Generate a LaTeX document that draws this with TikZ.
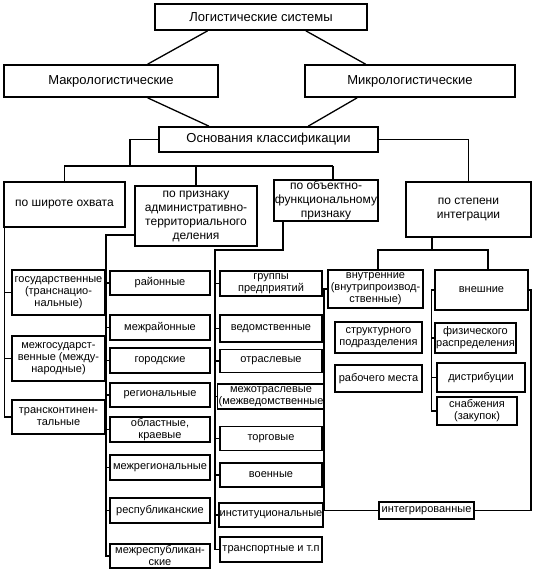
\documentclass[tikz,border=0pt]{standalone}
\usepackage{fontspec}
\setmainfont{Liberation Sans}
\usetikzlibrary{calc}
\tikzset{
  box/.style={draw=black, line width=1.7pt, fill=white, align=center, inner sep=1pt, font=\fontsize{11}{12}\selectfont},
  midbox/.style={box, font=\fontsize{12}{14}\selectfont},
  bigbox/.style={box, font=\fontsize{13}{15}\selectfont},
  conn/.style={draw=black, line width=1.3pt},
}
\newcommand{\bx}[7][box]{\node[#1, minimum width=#5pt, minimum height=#6pt] (#2) at (#3,#4) {#7};}
\begin{document}
\begin{tikzpicture}[x=1pt,y=-1pt]
\useasboundingbox (0,0) rectangle (538,570);
% top levels
\bx[bigbox]{log}{261}{17}{212}{26}{Логистические системы}
\bx[bigbox]{macro}{111}{81}{214}{32}{Макрологистические}
\bx[bigbox]{micro}{410}{81}{210}{32}{Микрологистические}
\bx[bigbox]{osn}{268.5}{139.5}{219}{25}{Основания классификации}
\bx[midbox]{shir}{64.5}{204.5}{121}{45}{по широте охвата}
\bx[midbox]{adm}{196}{216}{122}{60}{по признаку\\административно-\\территориального\\деления}
\bx[midbox]{obj}{326}{200.5}{102}{39}{по объектно-\\функциональному\\признаку}
\bx[midbox]{integ}{468.5}{209.5}{125}{55}{по степени\\интеграции}
% column 1
\bx{gos}{58.5}{292.5}{93}{45}{государственные\\(транснацио-\\нальные)}
\bx{mgos}{58.5}{358.5}{93}{45}{межгосударст-\\венные (между-\\народные)}
\bx{trk}{58.5}{417}{93}{34}{трансконтинен-\\тальные}
% column 2
\bx{c2a}{160}{283}{100}{24}{районные}
\bx{c2b}{160}{327.5}{100}{25}{межрайонные}
\bx{c2c}{160}{360.5}{100}{25}{городские}
\bx{c2d}{160}{395}{100}{24}{региональные}
\bx{c2e}{160}{429.5}{100}{25}{областные,\\краевые}
\bx{c2f}{160}{467.5}{100}{25}{межрегиональные}
\bx{c2g}{160}{510.5}{100}{25}{республиканские}
\bx{c2h}{160}{556}{100}{24}{межреспубликан-\\ские}
% column 3
\bx{c3a}{271}{283.5}{102}{25}{группы\\предприятий}
\bx{c3b}{271}{328.5}{102}{27}{ведомственные}
\bx{c3c}{271}{361}{102}{23}{отраслевые}
\bx{c3d}{271}{396.5}{102}{25}{межотраслевые\\(межведомственные}
\bx{c3e}{271}{438.5}{102}{24}{торговые}
\bx{c3f}{271}{475}{102}{24}{военные}
\bx{c3g}{271}{515}{102}{24}{институциональные}
\bx{c3h}{271}{549.5}{102}{25}{транспортные и т.п}
% column 4
\bx{vnutr}{375.5}{289}{95}{38}{внутренние\\(внутрипроизвод-\\ственные)}
\bx{vnesh}{481.5}{290}{93}{40}{внешние}
\bx{struct}{378.5}{337.5}{87}{31}{структурного\\подразделения}
\bx{rabm}{378.5}{378.5}{87}{27}{рабочего места}
\bx{fiz}{475.5}{338}{77}{30}{физического\\распределения}
\bx{distr}{481}{377.5}{88}{29}{дистрибуции}
\bx{snab}{477}{411}{80}{28}{снабжения\\(закупок)}
\bx{intg}{426.5}{510.5}{95}{17}{интегрированные}
% top connectors
\draw[conn] ($(log.south west)!0.25!(log.south east)$) -- ($(macro.north west)!0.67!(macro.north east)$);
\draw[conn] ($(log.south west)!0.71!(log.south east)$) -- ($(micro.north west)!0.29!(micro.north east)$);
\draw[conn] ($(macro.south west)!0.67!(macro.south east)$) -- ($(osn.north west)!0.23!(osn.north east)$);
\draw[conn] ($(micro.south west)!0.25!(micro.south east)$) -- ($(osn.north west)!0.68!(osn.north east)$);
% tree from osn
\coordinate (j1) at (130,166);
\coordinate (hR) at (333,166);
\draw[conn] (osn.west) -| (j1);
\draw[conn] (shir.north) |- (hR);
\draw[conn] (adm.north) -- (adm.north |- hR);
\draw[conn] (obj.north -| hR) -- (hR);
\draw[conn] (osn.east) -| (integ.north);
% column 1 links
\draw[conn] ($(shir.south west)+(1,0)$) |- (trk.west);
\draw[conn] (gos.west) -- ++(-7.5,0);
\draw[conn] (mgos.west) -- ++(-7.5,0);
% column 2 links
\coordinate (c2t) at (106,235);
\draw[conn] (c2t -| adm.west) -- (c2t) |- (c2h.west);
\foreach \n in {c2a,c2b,c2c,c2d,c2e,c2f,c2g} {\draw[conn] (\n.west) -- (\n.west -| c2t);}
% column 3 links
\coordinate (c3s) at (283,250);
\coordinate (c3t) at (215,250);
\draw[conn] (c3s |- obj.south) -- (c3s) -- (c3t) |- (c3h.west);
\foreach \n in {c3a,c3b,c3c,c3d,c3e,c3f,c3g} {\draw[conn] (\n.west) -- (\n.west -| c3t);}
% column 4 links
\coordinate (c4) at (432,250);
\coordinate (c4L) at (378,250);
\coordinate (c4R) at (488,250);
\draw[conn] (c4 |- integ.south) -- (c4);
\draw[conn] (c4L |- vnutr.north) -- (c4L) -- (c4R) -- (c4R |- vnesh.north);
\coordinate (lL) at (324,510.5);
\coordinate (lR) at (531,510.5);
\draw[conn] (vnutr.west) -| (lL) -- (intg.west);
\draw[conn] (vnesh.east) -| (lR) -- (intg.east);
\coordinate (v) at (431.5,0);
\draw[conn] (vnesh.west) -- (vnesh.west -| v) |- (snab.west);
\draw[conn] (fiz.west) -- (fiz.west -| v);
\draw[conn] (distr.west) -- (distr.west -| v);
\end{tikzpicture}
\end{document}
